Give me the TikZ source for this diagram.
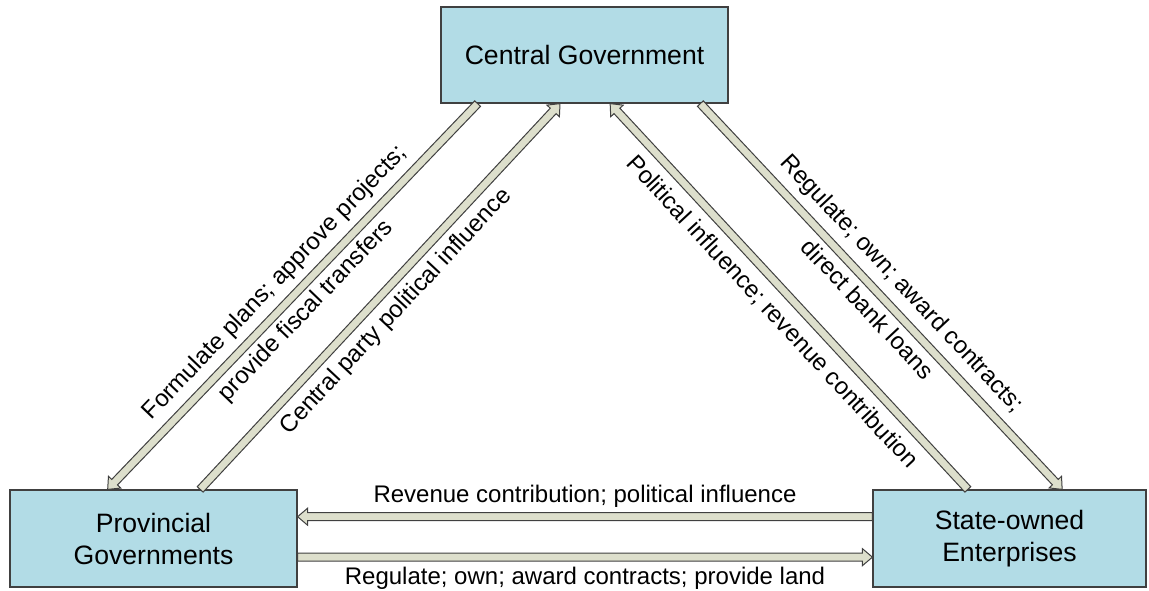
\documentclass[tikz,border=0pt]{standalone}
\usepackage{fontspec}
\setmainfont{Liberation Sans}
\usetikzlibrary{calc}
\definecolor{boxfill}{RGB}{178,220,230}
\definecolor{boxline}{RGB}{64,64,64}
\definecolor{arrowfill}{RGB}{221,223,204}
\definecolor{arrowline}{RGB}{64,64,64}
\tikzset{
	box/.style={draw=boxline, fill=boxfill, line width=0.6pt, inner sep=0pt,
		align=center, font=\fontsize{13.3}{16}\selectfont},
	elabel/.style={font=\fontsize{12}{14}\selectfont, inner sep=0pt, sloped},
	blockarrow/.style={draw=arrowline, fill=arrowfill, line width=0.5pt,
		to path={
			-- ($(\tikztostart)!2pt!90:(\tikztotarget)$)
			-- ($($(\tikztotarget)!5pt!(\tikztostart)$)!2pt!-90:(\tikztostart)$)
			-- ($($(\tikztotarget)!5pt!(\tikztostart)$)!4.25pt!-90:(\tikztostart)$)
			-- (\tikztotarget)
			-- ($($(\tikztotarget)!5pt!(\tikztostart)$)!4.25pt!90:(\tikztostart)$)
			-- ($($(\tikztotarget)!5pt!(\tikztostart)$)!2pt!90:(\tikztostart)$)
			-- ($(\tikztostart)!2pt!-90:(\tikztotarget)$)
			-- cycle}},
}
\begin{document}
\begin{tikzpicture}[x=0.5pt, y=-0.5pt]
	\useasboundingbox (0,0) rectangle (1149,590);
	% Kästen
	\node[box, minimum width=143.5pt, minimum height=48pt] (cg) at (584.5,55)
		{Central Government};
	\node[box, minimum width=143.5pt, minimum height=48.5pt] (pg) at (153.5,538.5)
		{Provincial\\Governments};
	\node[box, minimum width=136.5pt, minimum height=48.5pt] (soe) at (1009.5,538.5)
		{State-owned\\Enterprises};

	% Anschlusspunkte
	\coordinate (cg-a) at ($(cg.south west)!0.129!(cg.south east)$);
	\coordinate (cg-b) at ($(cg.south west)!0.415!(cg.south east)$);
	\coordinate (cg-c) at ($(cg.south west)!0.589!(cg.south east)$);
	\coordinate (cg-d) at ($(cg.south west)!0.902!(cg.south east)$);
	\coordinate (pg-a) at ($(pg.north west)!0.341!(pg.north east)$);
	\coordinate (pg-b) at ($(pg.north west)!0.662!(pg.north east)$);
	\coordinate (soe-c) at ($(soe.north west)!0.348!(soe.north east)$);
	\coordinate (soe-d) at ($(soe.north west)!0.692!(soe.north east)$);
	\coordinate (soe-e) at ($(soe.north west)!0.278!(soe.south west)$);
	\coordinate (soe-f) at ($(soe.north west)!0.69!(soe.south west)$);
	\coordinate (pg-e) at (pg.east |- soe-e);
	\coordinate (pg-f) at (pg.east |- soe-f);

	% Pfeile
	\draw[blockarrow] (cg-a) to (pg-a);
	\draw[blockarrow] (pg-b) to (cg-b);
	\draw[blockarrow] (soe-c) to (cg-c);
	\draw[blockarrow] (cg-d) to (soe-d);
	\draw[blockarrow] (soe-e) to (pg-e);
	\draw[blockarrow] (pg-f) to (soe-f);

	% Beschriftungen
	\path (cg-a) -- node[elabel, pos=0.504, yshift=11pt] {Formulate plans; approve projects;}
		node[elabel, pos=0.502, yshift=-10pt] {provide fiscal transfers} (pg-a);
	\path (pg-b) -- node[elabel, pos=0.5, yshift=-11pt] {Central party political influence} (cg-b);
	\path (soe-c) -- node[elabel, pos=0.5, yshift=-11.5pt] {Political influence; revenue contribution} (cg-c);
	\path (cg-d) -- node[elabel, pos=0.509, yshift=11.5pt] {Regulate; own; award contracts;}
		node[elabel, pos=0.5, yshift=-9pt] {direct bank loans} (soe-d);
	\path (pg-e) -- node[elabel, pos=0.5, yshift=10pt] {Revenue contribution; political influence} (soe-e);
	\path (pg-f) -- node[elabel, pos=0.5, yshift=-10.5pt] {Regulate; own; award contracts; provide land} (soe-f);
\end{tikzpicture}
\end{document}
